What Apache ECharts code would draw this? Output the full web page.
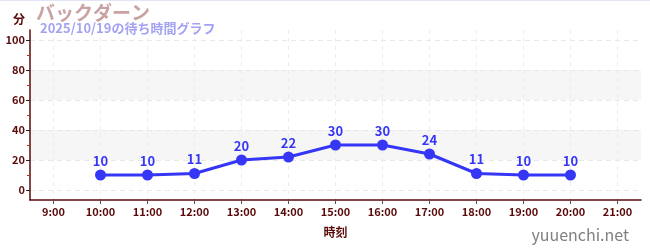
<!DOCTYPE html>
<html><head><meta charset="utf-8">
<script src="https://cdn.jsdelivr.net/npm/echarts@6/dist/echarts.min.js"></script>
<style>html,body{margin:0;padding:0;background:#fff;}#c{width:650px;height:250px;}#b{position:absolute;left:0;top:0;width:650px;height:1px;background:#e2e4f8;z-index:5;}</style>
</head><body><div id="b"></div><div id="c"></div>
<script>
const hours = [10, 11, 12, 13, 14, 15, 16, 17, 18, 19, 20];
const waits = [10, 10, 11, 20, 22, 30, 30, 24, 11, 10, 10];
const xTicks = [9, 10, 11, 12, 13, 14, 15, 16, 17, 18, 19, 20, 21];
const yTicks = [0, 20, 40, 60, 80, 100];
const yMinor = [10, 30, 50, 70, 90];
const titleText = 'バックダーン';
const subText = '2025/10/19の待ち時間グラフ';

const chart = echarts.init(document.getElementById('c'), null, {renderer: 'canvas'});
const axisColor = '#5a0a0a';
const fontFam = '"Noto Sans CJK JP", "Noto Sans", sans-serif';
chart.setOption({
  animation: false,
  textStyle: {fontFamily: fontFam},
  title: [
    {text: titleText, left: 31, top: -2, textStyle: {color: '#c9a3a3', fontSize: 19, fontWeight: 'bold', fontFamily: fontFam}},
    {text: subText, left: 35, top: 17, textStyle: {color: '#a3a3f2', fontSize: 13, fontWeight: 'bold', fontFamily: fontFam}},
    {text: 'yuuenchi.net', right: 16, top: 222, textStyle: {color: '#808080', fontSize: 16, fontWeight: 'normal', fontFamily: fontFam}}
  ],
  grid: {left: 30, right: 9, top: 30, bottom: 50},
  xAxis: {
    type: 'value', min: 8.5, max: 21.5,
    name: '時刻', nameLocation: 'middle', nameGap: 26,
    nameTextStyle: {color: axisColor, fontSize: 12, fontWeight: 'bold'},
    axisLine: {onZero: false, lineStyle: {color: axisColor, width: 1.5}},
    axisTick: {customValues: xTicks, length: 4, lineStyle: {color: '#555'}},
    axisLabel: {customValues: xTicks, formatter: v => v + ':00', color: axisColor, fontSize: 11, fontWeight: 'bold', margin: 6},
    splitLine: {show: true, lineStyle: {color: '#ececec', type: [4, 4]}}
  },
  yAxis: [{
    type: 'value', min: -20 / 3, max: 320 / 3,
    name: '分', nameLocation: 'end', nameGap: 0,
    nameTextStyle: {color: axisColor, fontSize: 12, fontWeight: 'bold', align: 'right', verticalAlign: 'bottom', padding: [0, 5, 5, 0]},
    axisLine: {show: true, lineStyle: {color: axisColor, width: 1.5}},
    axisTick: {show: true, customValues: yTicks, length: 4, inside: false, lineStyle: {color: '#222'}},
    axisLabel: {customValues: yTicks, color: axisColor, fontSize: 11, fontWeight: 'bold', margin: 5},
    splitLine: {show: true, lineStyle: {color: '#e8e8e8', type: [5, 4]}},
    splitArea: {show: true, areaStyle: {color: ['rgba(255,255,255,0)', '#f6f6f6']}}
  }, {
    type: 'value', min: -20 / 3, max: 320 / 3, position: 'left',
    axisLine: {show: false},
    axisTick: {show: true, customValues: yMinor, length: 3, lineStyle: {color: '#d02020'}},
    axisLabel: {show: false, customValues: yMinor},
    splitLine: {show: false}
  }],
  series: [{
    type: 'line',
    data: hours.map((h, i) => [h, waits[i]]),
    symbol: 'circle', symbolSize: 11,
    lineStyle: {color: '#3636f6', width: 3},
    itemStyle: {color: '#3636f6'},
    label: {show: true, position: 'top', distance: 2, color: '#3636f6', fontSize: 13, fontWeight: 'bold'}
  }]
});
</script></body></html>
